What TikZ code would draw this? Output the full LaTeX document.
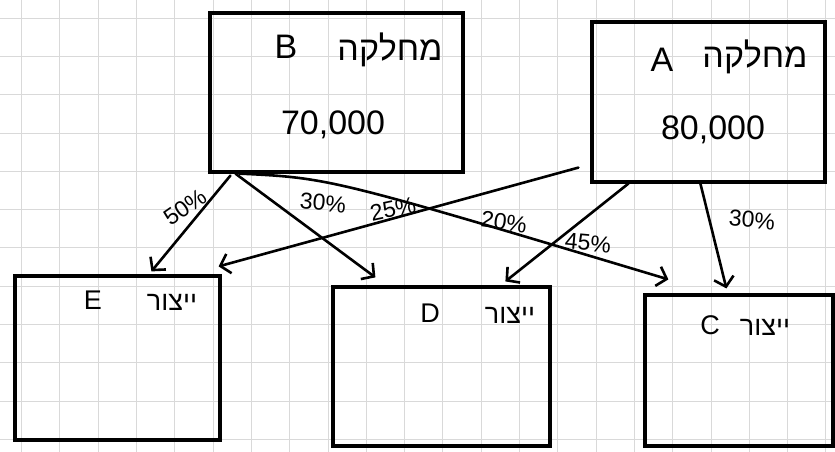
\documentclass[tikz,border=0pt]{standalone}
\usepackage{fontspec}
\setmainfont{Liberation Sans}
\newfontfamily\heb[Script=Hebrew]{Liberation Sans}
\TeXXeTstate=1
\usetikzlibrary{arrows.meta}
\begin{document}
\begin{tikzpicture}[x=1pt,y=-1pt,
 box/.style={draw, line width=3.2pt, rectangle, inner sep=0pt, anchor=center},
 arr/.style={line width=2.6pt, line cap=round, -{Straight Barb[length=9pt,width=20pt]}},
 big/.style={font=\fontsize{34}{38}\selectfont, inner sep=0pt},
 mid/.style={font=\fontsize{27}{30}\selectfont, inner sep=0pt},
 pct/.style={font=\fontsize{23}{26}\selectfont, inner sep=0pt},
 gridline/.style={draw=gray!30, line width=0.7pt}]
\useasboundingbox (0,0) rectangle (835,452);
\fill[white] (0,0) rectangle (835,452);
\foreach \i in {0,...,21} {
  \draw[gridline] ({21.5+38.3*\i},0) -- ({21.5+38.3*\i},452);
}
\foreach \j in {0,...,11} {
  \draw[gridline] (0,{18+38.3*\j}) -- (835,{18+38.3*\j});
}
% boxes
\node[box, minimum width=253pt, minimum height=159pt] (B) at (336.5,92.5) {};
\node[box, minimum width=233pt, minimum height=160pt] (A) at (708.5,102) {};
\node[box, minimum width=205pt, minimum height=164pt] (E) at (117.5,358) {};
\node[box, minimum width=217pt, minimum height=159pt] (D) at (441.5,366.5) {};
\node[box, minimum width=188pt, minimum height=151pt] (C) at (739,370.5) {};
% texts
\node[big] (Blet) at (286,47) {B};
\node[big] (Bheb) at (390,50) {\heb\beginR מחלקה\endR};
\node[big] (Bval) at (333,125) {70,000};
\node[big] (Alet) at (662,60) {A};
\node[big] (Aheb) at (755,57) {\heb\beginR מחלקה\endR};
\node[big] (Aval) at (713,130) {80,000};
\node[mid] (Elet) at (93,300) {E};
\node[mid] (Eheb) at (172,302) {\heb\beginR ייצור\endR};
\node[mid] (Dlet) at (430,313) {D};
\node[mid] (Dheb) at (510,315) {\heb\beginR ייצור\endR};
\node[mid] (Clet) at (710,325) {C};
\node[mid] (Cheb) at (765,327) {\heb\beginR ייצור\endR};
% connectors
\draw[arr] ([xshift=22pt,yshift=-2pt]B.south west) -- ([xshift=138pt,yshift=3pt]E.north west);
\draw[arr] ([xshift=27pt]B.south west) -- ([xshift=44pt,yshift=8pt]D.north west);
\draw[arr] ([xshift=31pt]B.south west) .. controls (330,178) .. ([xshift=25pt,yshift=14pt]C.north west);
\draw[arr] ([xshift=-12pt,yshift=16pt]A.south west) -- ([xshift=-3pt,yshift=8pt]E.north east);
\draw[arr] ([xshift=38pt]A.south west) -- ([xshift=174pt,yshift=4pt]D.north west);
\draw[arr] ([xshift=110pt]A.south west) -- ([xshift=83pt,yshift=5pt]C.north west);
% labels
\node[pct, rotate=35] (p50) at (185,207) {50\%};
\node[pct, rotate=-5] (p30b) at (323,203) {30\%};
\node[pct, rotate=12] (p25) at (393,209) {25\%};
\node[pct, rotate=-8] (p20) at (504,222) {20\%};
\node[pct, rotate=-5] (p45) at (588,243) {45\%};
\node[pct, rotate=-5] (p30a) at (752,220) {30\%};
\end{tikzpicture}
\end{document}
